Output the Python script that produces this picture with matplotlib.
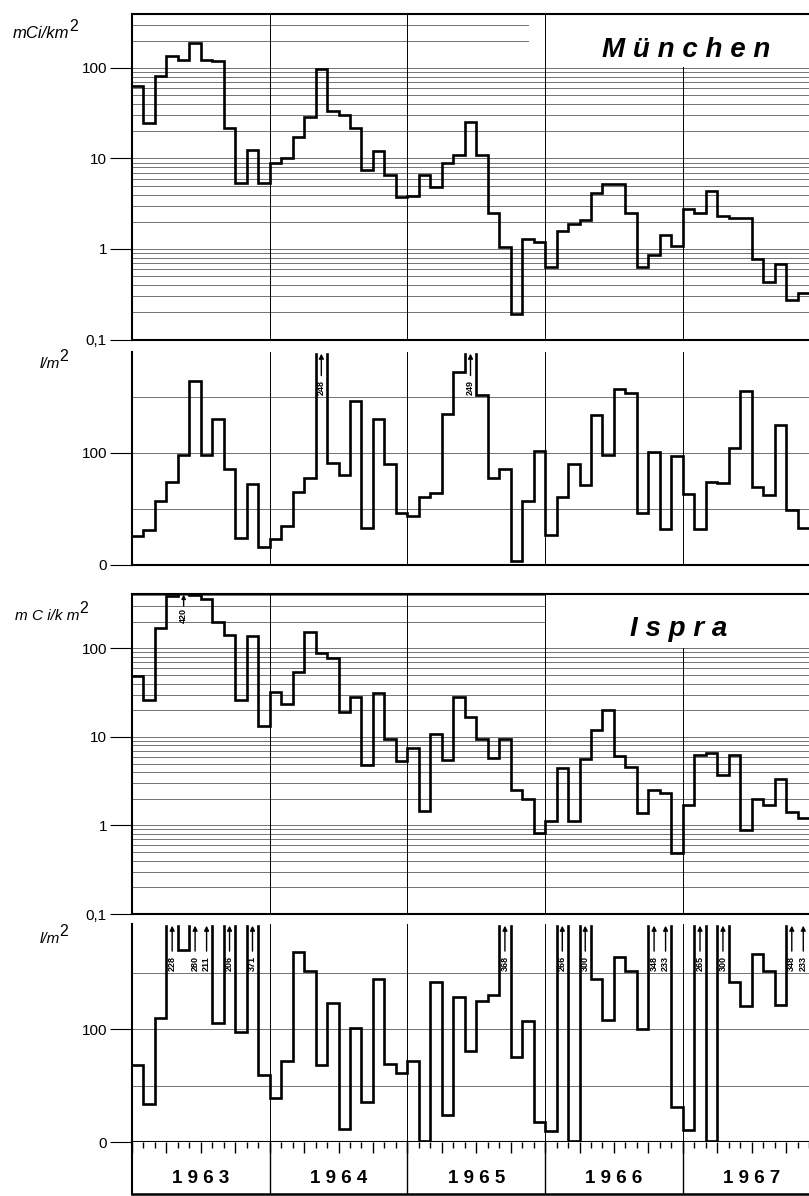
import numpy as np
import matplotlib
matplotlib.use('Agg')
import matplotlib.pyplot as plt
from matplotlib.patches import Rectangle
from matplotlib.ticker import LogLocator, NullFormatter, FixedLocator

plt.rcParams['font.family'] = ['Liberation Sans', 'DejaVu Sans']

# monthly values Jan 1963 .. Nov 1967
years = ['1963', '1964', '1965', '1966', '1967']

# München, deposition mCi/km2
muc_act = [64, 24.6, 82, 137, 124, 189, 124, 118, 21.7, 5.3, 12.5, 5.3,
           8.9, 10.1, 17.5, 28.7, 98, 33.7, 30, 21.7, 7.5, 12.2, 6.5, 3.8,
           3.9, 6.5, 4.8, 8.9, 10.8, 25, 10.9, 2.5, 1.06, 0.19, 1.28, 1.2,
           0.64, 1.6, 1.9, 2.1, 4.2, 5.2, 5.2, 2.5, 0.64, 0.86, 1.43, 1.08,
           2.75, 2.5, 4.4, 2.3, 2.2, 2.2, 0.77, 0.43, 0.69, 0.27, 0.33]
# München, precipitation l/m2
muc_rain = [26, 31, 57, 74, 98.5, 164, 98.5, 130, 86, 24, 72, 16.4,
            23, 35, 65, 78, 248, 91, 80.6, 146, 33, 130, 90.4, 46,
            44, 60.6, 64, 135, 172, 249, 152, 78, 86, 3.9, 57, 102,
            27, 60.6, 90.4, 71, 134, 98.5, 157, 153, 46, 101, 32, 97.6,
            63, 32, 74, 73, 104.5, 155, 70, 62, 124.5, 48.7, 33]
# Ispra, deposition mCi/km2
isp_act = [48.6, 25.8, 171, 385, 420, 395, 357, 200, 140, 26.4, 138, 13.3,
           31.8, 23.7, 53.8, 153, 88, 77.5, 19.2, 28, 4.8, 31, 9.4, 5.4,
           7.5, 1.47, 10.7, 5.5, 28, 16.6, 9.5, 5.75, 9.5, 2.5, 1.97, 0.83,
           1.13, 4.5, 1.13, 5.6, 11.8, 20, 6.1, 4.6, 1.38, 2.5, 2.3, 0.49,
           1.7, 6.2, 6.5, 3.7, 6.3, 0.89, 1.97, 1.7, 3.3, 1.43, 1.2]
# Ispra, precipitation l/m2
isp_rain = [68, 34, 110, 228, 170, 280, 211, 105.6, 206, 97, 371, 59,
            39, 72, 168, 151, 68, 123, 11.5, 100.6, 35, 144, 69, 61,
            72, 1, 142, 23.5, 128.5, 81, 125, 130, 368, 75.6, 107, 17.6,
            10, 266, 0.6, 300, 144, 108, 164, 151, 100, 348, 233, 31,
            11, 265, 0.5, 300, 142, 120, 166, 151, 121, 348, 233]

W, H = 809, 1196
XMAX = 59.0
fig = plt.figure(figsize=(W / 100, H / 100), dpi=100)


def px_axes(top, bottom):
    return fig.add_axes([132 / W, 1 - bottom / H, 1 - 132 / W, (bottom - top) / H])


def step_path(vals, cap):
    xs, ys = [], []
    for i, v in enumerate(vals):
        c = min(v, cap)
        if v > cap:
            xs += [i, np.nan, i + 1]
            ys += [c, np.nan, c]
        else:
            xs += [i, i + 1]
            ys += [c, c]
    return np.array(xs, float), np.array(ys, float)


def style(ax, top_spine, cut=None):
    ax.set_xlim(0, XMAX)
    ax.spines['right'].set_visible(False)
    ax.spines['top'].set_visible(top_spine)
    for s in ['left', 'bottom', 'top']:
        ax.spines[s].set_linewidth(1.5)
    ax.set_xticks([])
    ax.tick_params(axis='y', which='major', direction='out', length=16,
                   width=0.8, pad=2, labelsize=11)
    ax.tick_params(axis='y', which='minor', length=0)
    ax.set_axisbelow(True)
    for k in range(1, 5):
        top = cut if (cut is not None and k == 4) else 1
        ax.axvline(12 * k, ymax=top, color='k', lw=0.7, zorder=1.2)


def activity(ax, vals, top, name, box_x, box_y, title_x):
    ax.set_yscale('log')
    ax.set_ylim(0.1, top)
    ax.set_yticks([0.1, 1, 10, 100], ['0,1', '1', '10', '100'])
    ax.yaxis.set_minor_locator(LogLocator(base=10, subs=np.arange(2, 10)))
    ax.yaxis.set_minor_formatter(NullFormatter())
    ax.grid(axis='y', which='both', color='0.3', lw=0.55)
    style(ax, True, cut=box_y)
    # white field behind the station name
    ax.add_patch(Rectangle((box_x, box_y), 1 - box_x, 1 - box_y,
                           transform=ax.transAxes, fc='white', ec='none',
                           zorder=1.0))
    cap = top * 0.985
    x, y = step_path(vals, cap)
    ax.plot(x, y, color='k', lw=1.9, zorder=3, solid_joinstyle='miter')
    for i, v in enumerate(vals):
        if v > cap:
            ax.annotate('', xy=(i + 0.5, cap), xytext=(i + 0.5, 300),
                        arrowprops=dict(arrowstyle='-|>', color='k', lw=1.0,
                                        mutation_scale=6, shrinkA=0, shrinkB=0))
            ax.text(i + 0.5, 235, str(int(v)), rotation=90, ha='center',
                    va='center', fontsize=6.5, fontweight='bold')
    ax.text(title_x, 0.868, name, transform=ax.transAxes, ha='center',
            va='baseline', fontsize=20, fontweight='bold', style='italic')


def rain(ax, vals, top):
    ax.set_ylim(0, top)
    ax.yaxis.set_major_locator(FixedLocator([0, 100]))
    ax.yaxis.set_minor_locator(FixedLocator([50, 150]))
    ax.grid(axis='y', which='both', color='0.3', lw=0.55)
    style(ax, False)
    cap = top - 1.5
    x, y = step_path(vals, cap)
    ax.plot(x, y, color='k', lw=1.9, zorder=3, solid_joinstyle='miter')
    for i, v in enumerate(vals):
        if v > cap:
            ax.annotate('', xy=(i + 0.5, cap), xytext=(i + 0.5, 169),
                        arrowprops=dict(arrowstyle='-|>', color='k', lw=1.0,
                                        mutation_scale=7, shrinkA=0, shrinkB=0))
            ax.text(i + 0.5, 158, str(int(v)), rotation=90, ha='center',
                    va='center', fontsize=6.5, fontweight='bold')


ax1 = px_axes(14, 339.5)
activity(ax1, muc_act, 395, 'M ü n c h e n', 34.6 / XMAX, 0.837, 0.818)
ax2 = px_axes(352, 565)
rain(ax2, muc_rain, 190)
ax3 = px_axes(594, 914)
activity(ax3, isp_act, 410, 'I s p r a', 36 / XMAX, 0.831, 0.808)
ax4 = px_axes(924, 1142)
rain(ax4, isp_rain, 193)

# year band
band = px_axes(1142, 1194)
band.set_xlim(0, XMAX)
band.set_ylim(0, 1)
band.set_yticks([])
band.spines['right'].set_visible(False)
band.spines['top'].set_visible(False)
band.spines['left'].set_linewidth(1.5)
band.spines['bottom'].set_linewidth(1.8)
band.xaxis.tick_top()
band.set_xticks(np.arange(0, 60, 3))
band.set_xticks(np.arange(0, 60, 1), minor=True)
band.tick_params(axis='x', which='major', direction='in', length=8, width=1.0,
                 labeltop=False, labelbottom=False)
band.tick_params(axis='x', which='minor', direction='in', length=4, width=1.0)
for k in range(1, 5):
    band.axvline(12 * k, color='k', lw=1.0)
for k, yr in enumerate(years):
    band.text(12 * k + 6, 0.3, ' '.join(yr), ha='center', va='center',
              fontsize=13.5, fontweight='bold')


def unit(x_px, base_px, text, size):
    t = fig.text(x_px / W, 1 - base_px / H, text, fontsize=size,
                 style='italic', va='baseline')
    ax1.annotate('2', xy=(1, 0), xycoords=t, xytext=(-0.5, 5),
                 textcoords='offset points', fontsize=11.5, va='bottom',
                 annotation_clip=False)


unit(13, 38, 'mCi/km', 12)
unit(40, 368, 'l/m', 11)
unit(15, 620, 'm C i/k m', 11)
unit(40, 943, 'l/m', 11)

fig.savefig('out.png', dpi=100)
